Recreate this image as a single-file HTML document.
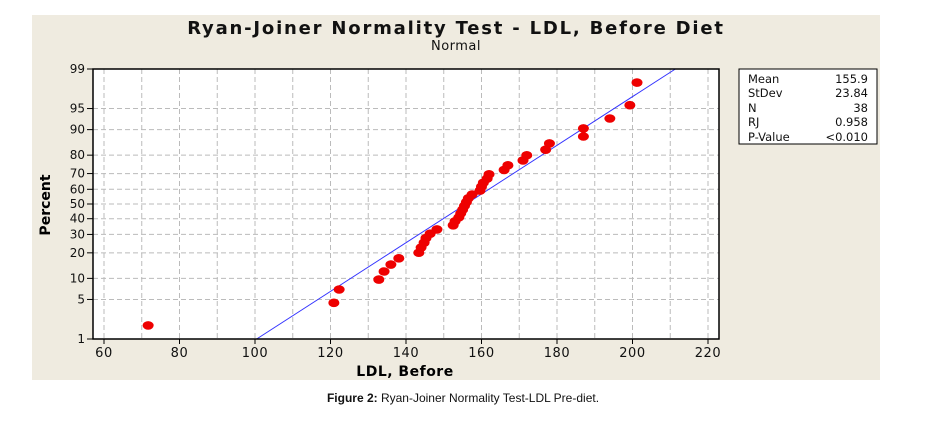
<!DOCTYPE html>
<html><head><meta charset="utf-8"><style>
body{margin:0;background:#fff;width:925px;height:417px;overflow:hidden;font-family:"DejaVu Sans","Liberation Sans",sans-serif}
</style></head><body>
<svg id="chart" width="925" height="417" xmlns="http://www.w3.org/2000/svg">
<rect x="32" y="15" width="848" height="365" fill="#efebe0"/>
<text x="456" y="34" text-anchor="middle" font-size="18" letter-spacing="1.8" font-weight="bold" fill="#111">Ryan-Joiner Normality Test - LDL, Before Diet</text>
<text x="456" y="50" text-anchor="middle" font-size="13" letter-spacing="0.5" fill="#111">Normal</text>
<rect x="93" y="69" width="626" height="270" fill="#fff"/>
<g id="grid"></g>
<g id="fit"></g>
<g id="pts"></g>
<rect x="93" y="69" width="626" height="270" fill="none" stroke="#000" stroke-width="1.5"/>
<g id="ticks" font-size="12" fill="#111"></g>
<text transform="translate(50,205) rotate(-90)" text-anchor="middle" font-size="14" font-weight="bold">Percent</text>
<text x="405" y="376" text-anchor="middle" font-size="14" letter-spacing="0.5" font-weight="bold">LDL, Before</text>
<g font-size="11.5" fill="#111">
<rect x="739" y="69" width="138" height="75" fill="#fff" stroke="#000"/>
<text x="748" y="83">Mean</text><text x="868" y="83" text-anchor="end">155.9</text>
<text x="748" y="97">StDev</text><text x="868" y="97" text-anchor="end">23.84</text>
<text x="748" y="112">N</text><text x="868" y="112" text-anchor="end">38</text>
<text x="748" y="126">RJ</text><text x="868" y="126" text-anchor="end">0.958</text>
<text x="748" y="141">P-Value</text><text x="868" y="141" text-anchor="end">&lt;0.010</text>
</g>
<text x="463" y="402" text-anchor="middle" font-family="Liberation Sans, sans-serif" font-size="12" fill="#111"><tspan font-weight="bold">Figure 2:</tspan> Ryan-Joiner Normality Test-LDL Pre-diet.</text>
</svg>
<script>
const ldlValues=[71.7,120.9,122.3,132.8,134.2,136,138.1,143.4,144,144.8,145.3,146.4,148.2,152.5,153,154,154.5,155,155.5,156,156.5,157.5,159.6,160,160.5,161.5,162,166,167,171,172,177,178,187,187,194,199.3,201.2];
const percentValues=[1.82,4.43,7.03,9.64,12.24,14.84,17.45,20.05,22.66,25.26,27.86,30.47,33.07,35.68,38.28,40.89,43.49,46.09,48.70,51.30,53.91,56.51,59.11,61.72,64.32,66.93,69.53,72.14,74.74,77.34,79.95,82.55,85.16,87.76,90.36,92.97,95.57,98.18];
const xTicks=[60,80,100,120,140,160,180,200,220];
const xGrid=[60,70,80,90,100,110,120,130,140,150,160,170,180,190,200,210,220];
const yTicks=[1,5,10,20,30,40,50,60,70,80,90,95,99];
const fitMean=155.9, fitSd=23.84;
const NS='http://www.w3.org/2000/svg';
function zInv(p){
 const a=[-39.6968302866538,220.946098424521,-275.928510446969,138.357751867269,-30.6647980661472,2.50662827745924],
 b=[-54.4760987982241,161.585836858041,-155.698979859887,66.8013118877197,-13.2806815528857],
 c=[-0.00778489400243029,-0.322396458041136,-2.40075827716184,-2.54973253934373,4.37466414146497,2.93816398269878],
 d=[0.00778469570904146,0.32246712907004,2.445134137143,3.75440866190742];
 if(p<0.02425){const q=Math.sqrt(-2*Math.log(p));return (((((c[0]*q+c[1])*q+c[2])*q+c[3])*q+c[4])*q+c[5])/((((d[0]*q+d[1])*q+d[2])*q+d[3])*q+1);}
 if(p>1-0.02425){const q=Math.sqrt(-2*Math.log(1-p));return -(((((c[0]*q+c[1])*q+c[2])*q+c[3])*q+c[4])*q+c[5])/((((d[0]*q+d[1])*q+d[2])*q+d[3])*q+1);}
 const q=p-0.5,r=q*q;return (((((a[0]*r+a[1])*r+a[2])*r+a[3])*r+a[4])*r+a[5])*q/(((((b[0]*r+b[1])*r+b[2])*r+b[3])*r+b[4])*r+1);
}
const zMax=zInv(0.99);
function X(v){return 104+(v-60)*(708-104)/160;}
function Yz(z){return 204-z*135/zMax;}
function Y(p){return Yz(zInv(p/100));}
function mk(tag,attrs,parent){const e=document.createElementNS(NS,tag);for(const k in attrs)e.setAttribute(k,attrs[k]);parent.appendChild(e);return e;}
const grid=document.getElementById('grid'),ticks=document.getElementById('ticks'),pts=document.getElementById('pts'),fit=document.getElementById('fit');
xGrid.forEach(v=>{const l=mk('line',{x1:X(v),x2:X(v),y1:69,y2:339,stroke:'#bbb','stroke-dasharray':'5,3'},grid);

});
yTicks.forEach(p=>{const y=Y(p);const l=mk('line',{x1:93,x2:719,y1:y,y2:y,stroke:'#bbb','stroke-dasharray':'5,3'},grid);


mk('line',{x1:87,x2:93,y1:y,y2:y,stroke:'#000'},ticks);
const t=mk('text',{x:85,y:y+4,'text-anchor':'end'},ticks);t.textContent=p;

});
xTicks.forEach(v=>{mk('line',{x1:X(v),x2:X(v),y1:339,y2:344,stroke:'#000'},ticks);
const t=mk('text',{x:X(v),y:357,'text-anchor':'middle',"font-size":13,"letter-spacing":0.6},ticks);t.textContent=v;

});
const xa=fitMean-zMax*fitSd, xb=fitMean+zMax*fitSd;
const fl=mk('line',{x1:X(xa),y1:Yz(-zMax),x2:X(xb),y2:Yz(zMax),stroke:'#3333ff','stroke-width':1},fit);


ldlValues.forEach((v,i)=>{const e=mk('ellipse',{cx:X(v),cy:Y(percentValues[i]),rx:5.5,ry:4.3,fill:'#ee0000'},pts);

});
</script>
</body></html>
